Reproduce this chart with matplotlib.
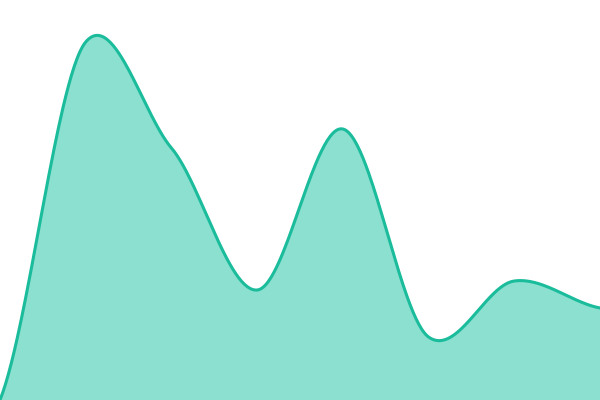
import numpy as np
import matplotlib
matplotlib.use("Agg")
import matplotlib.pyplot as plt

# valores (eje y de 0 a 400)
labels = ["A", "B", "C", "D", "E", "F", "G", "H"]
values = [0, 358, 252, 110, 271, 63, 119, 92]

line_color = "#1abc9c"
fill_color = "#8be0cf"


def cardinal(ys, tension=0.4, steps=60):
    # spline cardinal entre puntos equiespaciados
    ys = np.asarray(ys, dtype=float)
    n = len(ys)
    m = np.zeros(n)
    for i in range(n):
        if i == 0:
            m[i] = (ys[1] - ys[0]) * (1 - tension)
        elif i == n - 1:
            m[i] = (ys[-1] - ys[-2]) * (1 - tension)
        else:
            m[i] = (ys[i + 1] - ys[i - 1]) / 2 * (1 - tension) * 1.35
    xs_out, ys_out = [], []
    for i in range(n - 1):
        t = np.linspace(0, 1, steps, endpoint=False)
        h00 = 2 * t**3 - 3 * t**2 + 1
        h10 = t**3 - 2 * t**2 + t
        h01 = -2 * t**3 + 3 * t**2
        h11 = t**3 - t**2
        xs_out.append(i + t)
        ys_out.append(h00 * ys[i] + h10 * m[i] + h01 * ys[i + 1] + h11 * m[i + 1])
    xs_out.append([n - 1])
    ys_out.append([ys[-1]])
    return np.concatenate(xs_out), np.concatenate(ys_out)


x = np.arange(len(values))
xs, ys = cardinal(values)

fig = plt.figure(figsize=(6, 4), dpi=100)
ax = fig.add_axes([0, 0, 1, 1])
ax.fill_between(xs, ys, 0, color=fill_color, linewidth=0)
ax.plot(xs, ys, color=line_color, linewidth=2.2)
ax.set_xlim(0, len(values) - 1)
ax.set_ylim(0, 400)
ax.axis("off")

fig.savefig("out.png", dpi=100)
